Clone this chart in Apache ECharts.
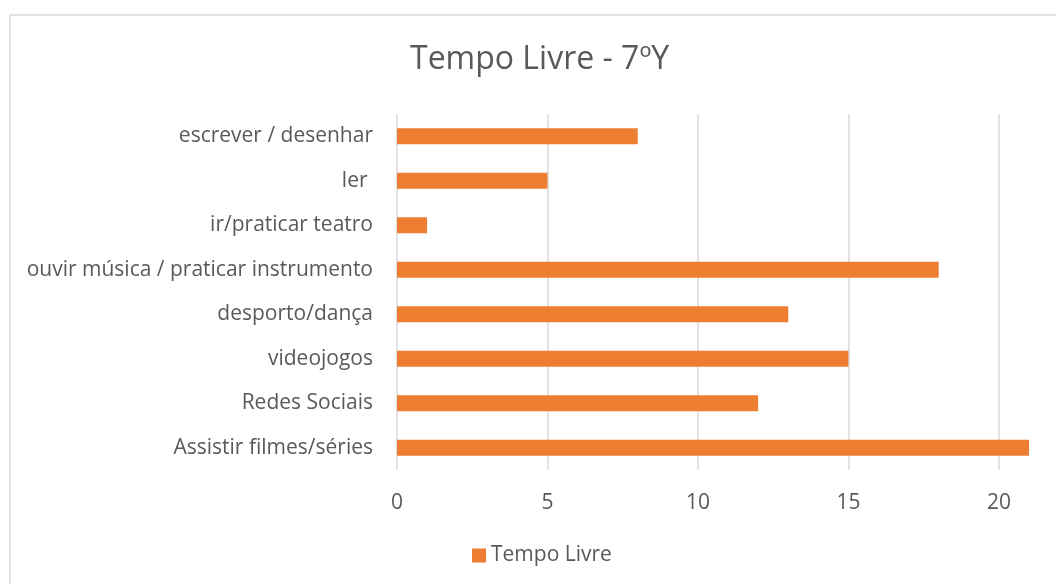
<!DOCTYPE html>
<html lang="pt">
<head>
    <meta charset="UTF-8">
    <title>Tempo Livre - 7ºY</title>
    <style>
        * {
            margin: 0;
            padding: 0;
        }

        .main {
            width: 1056px;
            height: 584px;
        }
    </style>
</head>
<body>
<div id="main" class="main"></div>
<script src="https://cdn.jsdelivr.net/npm/echarts@6/dist/echarts.min.js"></script>
<script>
    var categorias = ['Assistir filmes/séries', 'Redes Sociais', 'videojogos', 'desporto/dança',
        'ouvir música / praticar instrumento', 'ir/praticar teatro', 'ler ', 'escrever / desenhar'];
    var valores = [21, 12, 15, 13, 18, 1, 5, 8];
    var nomeSerie = 'Tempo Livre';

    var myChart = echarts.init(document.getElementById('main'), null, {renderer: 'canvas'});
    var fonte = '"Open Sans", sans-serif';

    myChart.setOption({
        animation: false,
        backgroundColor: '#fff',
        graphic: [{
            type: 'rect',
            shape: {x: 10, y: 15, width: 1050, height: 580},
            style: {fill: 'none', stroke: '#d9d9d9', lineWidth: 1.5}
        }],
        title: {
            text: 'Tempo Livre - 7ºY',
            left: 405,
            top: 39,
            textStyle: {fontFamily: fonte, fontSize: 32, fontWeight: 'normal', color: '#595959'}
        },
        legend: {
            data: [nomeSerie],
            bottom: 13,
            left: 467,
            itemWidth: 14,
            itemHeight: 14,
            itemGap: 6,
            icon: 'rect',
            textStyle: {fontFamily: fonte, fontSize: 21, color: '#595959'}
        },
        grid: {
            left: 397,
            right: 27,
            top: 114,
            bottom: 114
        },
        xAxis: {
            type: 'value',
            min: 0,
            max: 21,
            interval: 5,
            axisLine: {show: false},
            axisTick: {show: false},
            axisLabel: {fontFamily: fonte, fontSize: 21, color: '#595959', margin: 23, showMaxLabel: false},
            splitLine: {showMaxLine: false, lineStyle: {color: '#d9d9d9', width: 1.5}}
        },
        yAxis: {
            type: 'category',
            data: categorias,
            axisLine: {show: false},
            axisTick: {show: false},
            axisLabel: {fontFamily: fonte, fontSize: 21, color: '#595959', margin: 24}
        },
        series: [{
            name: nomeSerie,
            type: 'bar',
            data: valores,
            barWidth: 16,
            itemStyle: {color: '#ED7D31'}
        }]
    });
</script>
</body>
</html>
